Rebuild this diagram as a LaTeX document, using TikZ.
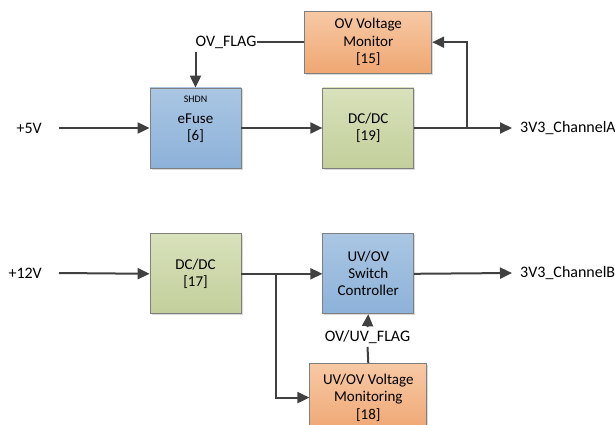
\documentclass[tikz,border=0pt]{standalone}
\usepackage{fontspec}
\setmainfont{Carlito}
\usetikzlibrary{arrows.meta,positioning,shadows}
\definecolor{wirec}{HTML}{404040}
\definecolor{edgec}{HTML}{7F7F7F}
\definecolor{blueT}{HTML}{AAC6E3}
\definecolor{blueB}{HTML}{8DB2D9}
\definecolor{greenT}{HTML}{D8E1BB}
\definecolor{greenB}{HTML}{C3CF9B}
\definecolor{orangeT}{HTML}{F7C9A6}
\definecolor{orangeB}{HTML}{EFA772}

\begin{document}
\begin{tikzpicture}[x=1pt,y=-1pt,
  blk/.style={draw=edgec,line width=0.8pt,minimum width=91pt,minimum height=80pt,align=center,
    font=\fontsize{15}{17.5}\selectfont,drop shadow={opacity=0.3,shadow xshift=1.5pt,shadow yshift=-1.5pt}},
  bluebox/.style={blk,top color=blueT,bottom color=blueB},
  greenbox/.style={blk,top color=greenT,bottom color=greenB},
  orangebox/.style={blk,top color=orangeT,bottom color=orangeB},
  sig/.style={inner sep=0pt,font=\fontsize{16}{18}\selectfont},
  wire/.style={line width=2pt,draw=wirec},
  arr/.style={wire,-{Triangle[length=12pt,width=11pt]}}]
\useasboundingbox (0,0) rectangle (615,425);
\clip (0,0) rectangle (615,425);

% channel A
\node[bluebox] (efuse) at (195.5,128) {eFuse\\{}[6]};
\node[font=\fontsize{10}{12}\selectfont,below=5pt of efuse.north] (shdn) {SHDN};
\node[greenbox,right=81pt of efuse] (dcA) {DC/DC\\{}[19]};
\node[orangebox,minimum width=127pt,minimum height=62pt,above=14pt of dcA] (ovmon) {OV Voltage\\Monitor\\{}[15]};
\node[sig,anchor=east] (in5) at (42,128) {+5V};
\node[sig,anchor=west] (outA) at (520,128) {3V3\_ChannelA};
\node[sig,anchor=west] (flagA) at (efuse.north |- ovmon.west) {OV\_FLAG};
\coordinate (tapA) at (467,128);

\draw[arr] ([xshift=17pt]in5.east) -- (efuse.west);
\draw[arr] (efuse.east) -- (dcA.west);
\draw[arr] (dcA.east) -- ([xshift=-8pt]outA.west);
\draw[arr] (tapA) |- (ovmon.east);
\draw[wire] (ovmon.west) -- (flagA.east);
\draw[arr] ([yshift=-3pt]flagA.south west) -- (efuse.north);

% channel B
\node[greenbox,below=65pt of efuse] (dcB) {DC/DC\\{}[17]};
\node[bluebox,right=81pt of dcB,font=\fontsize{15}{17}\selectfont] (sw) {UV/OV\\Switch\\Controller};
\node[orangebox,minimum width=117pt,minimum height=68pt,below=49pt of sw] (uvmon) {UV/OV Voltage\\Monitoring\\{}[18]};
\node[sig,anchor=east] (in12) at (42,273) {+12V};
\node[sig,anchor=west] (outB) at (520,273) {3V3\_ChannelB};
\node[sig,inner sep=3pt] (flagB) at (367.5,337) {OV/UV\_FLAG};
\coordinate (tapB) at (276,273);

\draw[arr] ([xshift=17pt]in12.east) -- (dcB.west);
\draw[arr] (dcB.east) -- (sw.west);
\draw[arr] (sw.east) -- ([xshift=-8pt]outB.west);
\draw[arr] (tapB) |- (uvmon.west);
\draw[wire] (uvmon.north) -- (flagB.south);
\draw[arr] (flagB.north) -- (sw.south);
\end{tikzpicture}
\end{document}
